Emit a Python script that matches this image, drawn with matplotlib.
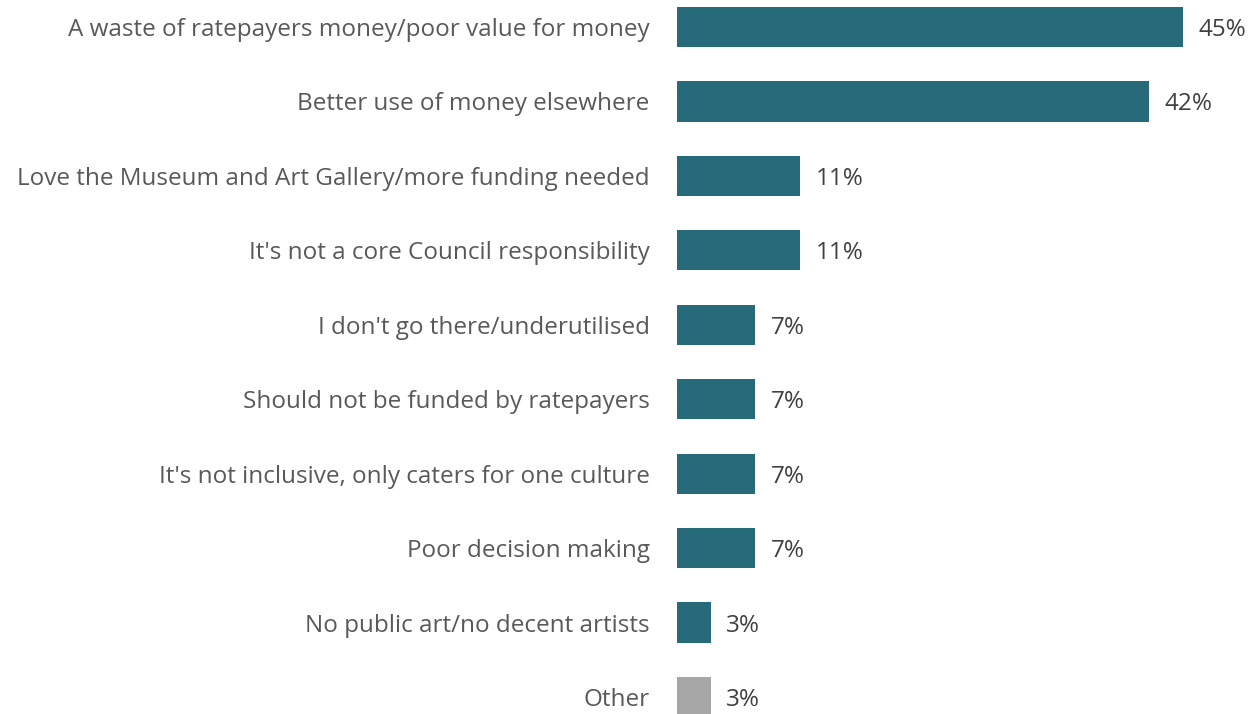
import matplotlib.pyplot as plt

plt.rcParams['font.family'] = ['Open Sans', 'DejaVu Sans']

categories = [
    'A waste of ratepayers money/poor value for money',
    'Better use of money elsewhere',
    'Love the Museum and Art Gallery/more funding needed',
    "It's not a core Council responsibility",
    "I don't go there/underutilised",
    'Should not be funded by ratepayers',
    "It's not inclusive, only caters for one culture",
    'Poor decision making',
    'No public art/no decent artists',
    'Other',
]
values = [45, 42, 11, 11, 7, 7, 7, 7, 3, 3]
colors = ['#276a7a'] * 9 + ['#a6a6a6']

fig = plt.figure(figsize=(12.51, 7.14), dpi=100)
ax = fig.add_axes([0.541, 0, 0.459, 1])

ypos = list(range(len(categories)))
ax.barh(ypos, values, height=0.54, color=colors)

for y, v in zip(ypos, values):
    ax.text(v + 1.4, y, f'{v}%', va='center_baseline', ha='left',
            fontsize=17.5, color='#404040')

ax.set_yticks(ypos)
ax.set_yticklabels(categories, fontsize=17.5, color='#595959')
for lbl in ax.get_yticklabels():
    lbl.set_va('center_baseline')
ax.tick_params(axis='y', length=0, pad=19.5)
ax.set_xticks([])
ax.set_xlim(0, 51.07)
ax.set_ylim(9.228, -0.363)
for s in ax.spines.values():
    s.set_visible(False)

fig.savefig('out.png', dpi=100)
